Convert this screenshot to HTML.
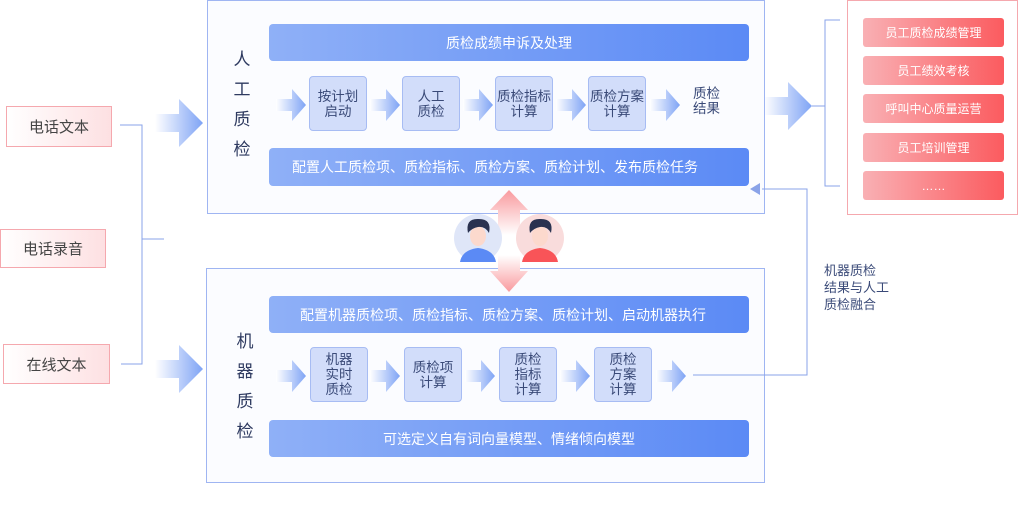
<!DOCTYPE html>
<html><head><meta charset="utf-8">
<style>
*{margin:0;padding:0;box-sizing:border-box}
body{width:1020px;height:513px;background:#fff;position:relative;overflow:hidden;font-family:"Liberation Sans","Noto Sans CJK SC",sans-serif}
.a{position:absolute}
.panel{position:absolute;background:#fbfcff;border:1px solid #9fb5f2}
.bar{position:absolute;left:269px;width:480px;border-radius:4px;background:linear-gradient(90deg,#8fb0f7,#5b8af5);color:#fff;font-size:14px;display:flex;align-items:center;justify-content:center}
.box{position:absolute;background:#d2ddfa;border:1px solid #a7bcf3;border-radius:4px;color:#3a4a78;font-size:13.5px;line-height:15px;display:flex;align-items:center;justify-content:center;text-align:center}
.vt{position:absolute;color:#2e3a60;font-size:17px;line-height:30px;width:20px;text-align:center}
.src{position:absolute;border:1px solid #f5a8ae;background:linear-gradient(90deg,#fff,#fde0e2);color:#444;font-size:15px;display:flex;align-items:center;justify-content:center}
.rt{position:absolute;left:863px;width:141px;height:29px;border-radius:3px;background:linear-gradient(90deg,#f9b0b4,#fb5b5f);color:#fff;font-size:12px;display:flex;align-items:center;justify-content:center}
</style></head><body>
<svg class="a" style="left:0;top:0" width="1020" height="513">
<defs>
<linearGradient id="g" x1="0" x2="1"><stop offset="0" stop-color="#fff"/><stop offset="1" stop-color="#7ea3f5"/></linearGradient>
<linearGradient id="pu" x1="0" y1="1" x2="0" y2="0"><stop offset="0" stop-color="#fff"/><stop offset="1" stop-color="#f99a9e"/></linearGradient>
<linearGradient id="pd" x1="0" y1="0" x2="0" y2="1"><stop offset="0" stop-color="#fff"/><stop offset="1" stop-color="#f99a9e"/></linearGradient>
<g id="ar"><path d="M0,-6 H16 V-16 L30,0 L16,16 V6 H0 Z" fill="url(#g)"/></g>
<g id="big"><path d="M0,-9 H24 V-24 L48,0 L24,24 V9 H0 Z" fill="url(#g)"/></g>
</defs>
<use href="#big" x="155" y="123"/>
<use href="#big" x="155" y="369"/>
<use href="#big" x="764" y="106"/>
</svg>
<div class="panel" style="left:207px;top:0;width:558px;height:214px"></div>
<div class="panel" style="left:206px;top:268px;width:559px;height:215px"></div>
<svg class="a" style="left:0;top:0" width="1020" height="513">
<use href="#ar" x="276" y="105"/><use href="#ar" x="370" y="105"/><use href="#ar" x="463" y="105"/><use href="#ar" x="556" y="105"/><use href="#ar" x="650" y="105"/>
<use href="#ar" x="276" y="376"/><use href="#ar" x="370" y="376"/><use href="#ar" x="465" y="376"/><use href="#ar" x="560" y="376"/><use href="#ar" x="656" y="376"/>
<path d="M490,210 L509,190 L528,210 H520 V235 H498 V210 Z" fill="url(#pu)"/>
<path d="M490,271 L509,292 L528,271 H520 V255 H498 V271 Z" fill="url(#pd)"/>
<circle cx="478" cy="238" r="24" fill="#dfe6f8"/>
<path d="M460,262 Q462,250 478,248 Q494,250 496,262 Z" fill="#5b8af5"/>
<ellipse cx="478" cy="236" rx="8" ry="10" fill="#fcd9cd"/>
<path d="M468,233 Q465,218 479,219 Q492,219 489,233 Q485,226 478,227 Q472,228 468,233Z" fill="#2a3250"/>
<circle cx="540" cy="238" r="24" fill="#f9dcdc"/>
<path d="M522,262 Q524,250 540,248 Q556,250 558,262 Z" fill="#f95458"/>
<ellipse cx="540" cy="236" rx="8" ry="10" fill="#fcd9cd"/>
<path d="M530,233 Q527,218 541,219 Q554,219 551,233 Q547,226 540,227 Q534,228 530,233Z" fill="#2a3250"/>
<path d="M693,375 H807 V189 H762" stroke="#8aa3e8" fill="none"/>
<path d="M750,189 L760,183 V195 Z" fill="#8aa3e8"/>
<path d="M120,125 H142 V364 H121 M142,239 H164" stroke="#8aa3e8" fill="none"/>
<path d="M812,106 H825 M840,20 H825 V186 H840" stroke="#8aa3e8" fill="none"/>
</svg>
<div class="bar" style="top:24px;height:37px">质检成绩申诉及处理</div>
<div class="bar" style="top:148px;height:38px;padding-right:28px">配置人工质检项、质检指标、质检方案、质检计划、发布质检任务</div>
<div class="bar" style="top:296px;height:37px;padding-right:12px">配置机器质检项、质检指标、质检方案、质检计划、启动机器执行</div>
<div class="bar" style="top:420px;height:37px">可选定义自有词向量模型、情绪倾向模型</div>
<div class="vt" style="left:232px;top:45px">人<br>工<br>质<br>检</div>
<div class="vt" style="left:235px;top:327px">机<br>器<br>质<br>检</div>
<div class="box" style="left:309px;top:76px;width:58px;height:55px">按计划<br>启动</div>
<div class="box" style="left:402px;top:76px;width:58px;height:55px">人工<br>质检</div>
<div class="box" style="left:495px;top:76px;width:58px;height:55px">质检指标<br>计算</div>
<div class="box" style="left:588px;top:76px;width:58px;height:55px">质检方案<br>计算</div>
<div class="a" style="left:693px;top:86px;font-size:13.5px;line-height:15px;color:#3a4a78">质检<br>结果</div>
<div class="box" style="left:310px;top:347px;width:58px;height:55px">机器<br>实时<br>质检</div>
<div class="box" style="left:404px;top:347px;width:58px;height:55px">质检项<br>计算</div>
<div class="box" style="left:499px;top:347px;width:58px;height:55px">质检<br>指标<br>计算</div>
<div class="box" style="left:594px;top:347px;width:58px;height:55px">质检<br>方案<br>计算</div>
<div class="src" style="left:6px;top:106px;width:106px;height:41px">电话文本</div>
<div class="src" style="left:0;top:229px;width:106px;height:39px">电话录音</div>
<div class="src" style="left:3px;top:344px;width:107px;height:40px">在线文本</div>
<div class="a" style="left:847px;top:0;width:171px;height:215px;border:1px solid #f5a8ae;background:#fff"></div>
<div class="rt" style="top:18px">员工质检成绩管理</div>
<div class="rt" style="top:56px">员工绩效考核</div>
<div class="rt" style="top:94px">呼叫中心质量运营</div>
<div class="rt" style="top:133px">员工培训管理</div>
<div class="rt" style="top:171px">……</div>
<div class="a" style="left:824px;top:262px;font-size:13px;line-height:17px;color:#3a4a78">机器质检<br>结果与人工<br>质检融合</div>
</body></html>
